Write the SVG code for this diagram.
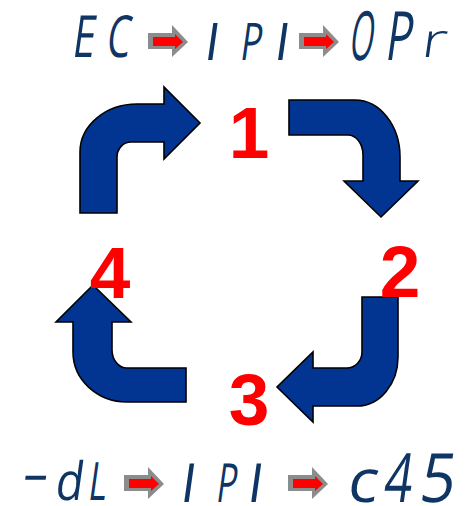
<svg xmlns="http://www.w3.org/2000/svg" width="466" height="506" viewBox="0 0 466 506">
  <style>
    .flow { fill: #023592; stroke: #000; stroke-width: 1.6; stroke-linejoin: miter; }
    .step { font-family: "Liberation Sans", Arial, sans-serif; font-weight: bold; font-size: 73px; fill: #ff0000; text-anchor: middle; }
    .seg { font-family: "Open Sans", "Liberation Sans", Arial, sans-serif; font-weight: 400; fill: #0f3564; }
    .thin { font-weight: 300; }
    .pt-back { fill: #8c8c8c; }
    .pt-front { fill: #ff0000; }
  </style>
  <defs>
    <!-- small gray/red pointer used between display codes, drawn around origin -->
    <g id="pointer">
      <polygon class="pt-back" points="0,-9 24,-9 24,-17 40,0 24,15 24,7 0,7"/>
      <polygon class="pt-front" points="5,-5 27,-5 27,-8 35,0 27,7 27,4 5,4"/>
    </g>
  </defs>

  <!-- top display sequence: narrow slanted display characters -->
  <g id="top-codes">
    <g id="code-ec">
      <text class="seg" font-size="58" transform="translate(71,57) skewX(-8) scale(0.7,1)">E</text>
      <text class="seg" font-size="58" transform="translate(105,57) skewX(-8) scale(0.65,1)">C</text>
    </g>
    <use href="#pointer" x="148" y="42"/>
    <g id="code-ipi-top">
      <text class="seg" font-size="52" transform="translate(203,60) skewX(-8)">I</text>
      <text class="seg" font-size="52" transform="translate(239,60) skewX(-8) scale(0.68,1)">P</text>
      <text class="seg" font-size="52" transform="translate(273,60) skewX(-8)">I</text>
    </g>
    <use href="#pointer" x="299" y="42"/>
    <g id="code-opr">
      <text class="seg" font-size="68" transform="translate(348,60) skewX(-8) scale(0.45,1)">O</text>
      <text class="seg" font-size="68" transform="translate(384,60) skewX(-8) scale(0.65,1)">P</text>
      <text class="seg thin" font-size="48" transform="translate(420,57) skewX(-8) scale(1.35,1)">r</text>
    </g>
  </g>

  <!-- bottom display sequence -->
  <g id="bottom-codes">
    <g id="code-dl">
      <text class="seg" font-size="53" transform="translate(20,492) skewX(-8) scale(1.6,1)">-</text>
      <text class="seg" font-size="53" transform="translate(54,500) skewX(-8) scale(0.85,1)">d</text>
      <text class="seg" font-size="53" transform="translate(87,500) skewX(-8) scale(0.65,1)">L</text>
    </g>
    <use href="#pointer" x="124" y="484"/>
    <g id="code-ipi-bottom">
      <text class="seg" font-size="54" transform="translate(179,502) skewX(-8)">I</text>
      <text class="seg" font-size="54" transform="translate(215,502) skewX(-8) scale(0.62,1)">P</text>
      <text class="seg" font-size="54" transform="translate(246,502) skewX(-8)">I</text>
    </g>
    <use href="#pointer" x="288" y="484"/>
    <g id="code-c45">
      <text class="seg" font-size="60" transform="translate(346,502) skewX(-8) scale(1.05,1)">c</text>
      <text class="seg" font-size="68" transform="translate(382,502) skewX(-8) scale(0.72,1)">4</text>
      <text class="seg" font-size="68" transform="translate(418,502) skewX(-8) scale(0.9,1)">5</text>
    </g>
  </g>

  <!-- cycle arrows -->
  <g id="connectors">
    <path id="arrow-4-1" class="flow" d="M80 213 L80 152 A57 48 0 0 1 137 104 L164 104 L164 87 L200 123 L164 159 L164 142 L131 142 A14 15 0 0 0 117 157 L117 213 Z"/>
    <path id="arrow-1-2" class="flow" d="M289 100 L355 100 A45 57 0 0 1 400 157 L400 181 L418 181 L381 217 L344 181 L363 181 L363 155 A15 20 0 0 0 348 135 L289 135 Z"/>
    <path id="arrow-2-3" class="flow" d="M362 297 L398 297 L398 357 A41 49 0 0 1 357 406 L313 406 L313 422 L277 387 L313 352 L313 368 L347 368 A15 16 0 0 0 362 352 Z"/>
    <path id="arrow-3-4" class="flow" d="M186 368 L186 402 L127 402 A54 50 0 0 1 73 352 L73 322 L56 322 L93 285 L131 322 L112 322 L112 350 A15 18 0 0 0 127 368 Z"/>
  </g>

  <!-- step numbers -->
  <g id="step-1"><text class="step" x="249" y="158">1</text></g>
  <g id="step-2"><text class="step" x="400" y="297">2</text></g>
  <g id="step-3"><text class="step" x="249" y="425">3</text></g>
  <g id="step-4"><text class="step" x="110" y="298">4</text></g>
</svg>
